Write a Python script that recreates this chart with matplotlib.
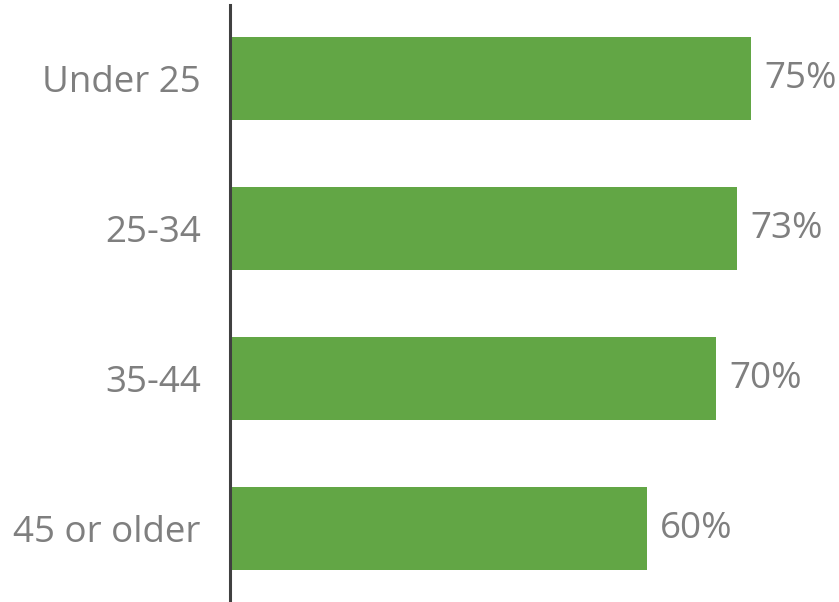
import matplotlib.pyplot as plt

# age groups and share of respondents (%)
categories = ['Under 25', '25-34', '35-44', '45 or older']
values = [75, 73, 70, 60]

bar_color = '#62A645'
text_color = '#7F7F7F'

plt.rcParams['font.family'] = ['Open Sans', 'DejaVu Sans']

fig = plt.figure(figsize=(8.39, 6.02), dpi=100)
ax = fig.add_axes([230 / 839, 0, 609 / 839, 597 / 602])

pos = list(range(len(categories)))
bars = ax.barh(pos, values, height=0.553, color=bar_color, edgecolor='none')

for y, v in zip(pos, values):
    ax.text(v + 1.9, y, f'{v}%', va='center', ha='left', fontsize=26.5, color=text_color)

ax.set_xlim(0, 87.66)
ax.set_ylim(3.49, -0.49)
ax.set_yticks(pos)
ax.set_yticklabels(categories, fontsize=26.5, color=text_color)
ax.tick_params(axis='y', length=0, pad=21)
ax.set_xticks([])

for side in ['top', 'right', 'bottom']:
    ax.spines[side].set_visible(False)
ax.spines['left'].set_color('#404040')
ax.spines['left'].set_linewidth(2.2)

fig.savefig('out.png', dpi=100)
